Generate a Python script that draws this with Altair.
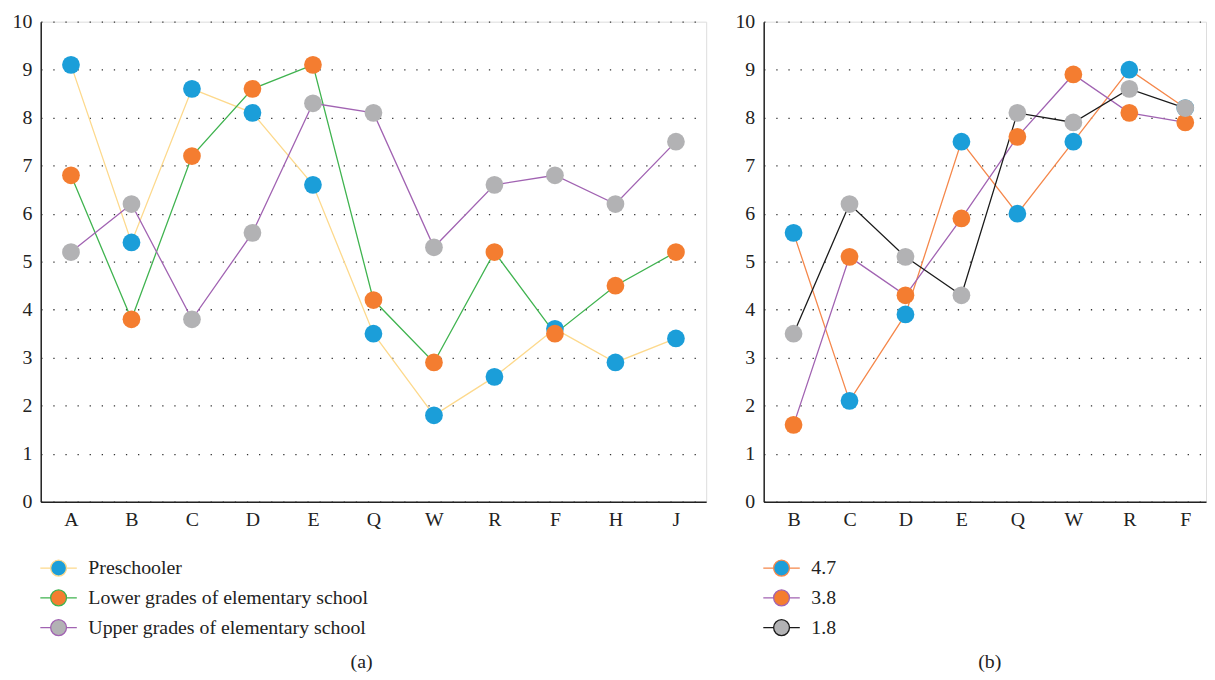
import altair as alt
import pandas as pd

# ---- data ----
cats_a = ["A", "B", "C", "D", "E", "Q", "W", "R", "F", "H", "J"]
names_a = ["Preschooler", "Lower grades of elementary school", "Upper grades of elementary school"]
preschooler = [9.1, 5.4, 8.6, 8.1, 6.6, 3.5, 1.8, 2.6, 3.6, 2.9, 3.4]
lower_grades = [6.8, 3.8, 7.2, 8.6, 9.1, 4.2, 2.9, 5.2, 3.5, 4.5, 5.2]
upper_grades = [5.2, 6.2, 3.8, 5.6, 8.3, 8.1, 5.3, 6.6, 6.8, 6.2, 7.5]

cats_b = ["B", "C", "D", "E", "Q", "W", "R", "F"]
names_b = ["4.7", "3.8", "1.8"]
s47 = [5.6, 2.1, 3.9, 7.5, 6.0, 7.5, 9.0, 8.2]
s38 = [1.6, 5.1, 4.3, 5.9, 7.6, 8.9, 8.1, 7.9]
s18 = [3.5, 6.2, 5.1, 4.3, 8.1, 7.9, 8.6, 8.2]

fills = ["#1b9ed9", "#f47d30", "#b2b2b4"]
lines_a = ["#fdd98c", "#3fb34f", "#a163b2"]
lines_b = ["#f5874a", "#a163b2", "#1a1a1a"]

FONT = "Liberation Serif"
FS = 20
SYMBOL = ("M-2.3,0H-1M1,0H2.3"
          "M1,0A1,1 0 1,1 -1,0A1,1 0 1,1 1,0Z")


def make_df(cats, names, series):
    rows = []
    for s_i, (name, vals) in enumerate(zip(names, series)):
        for c_i, (c, v) in enumerate(zip(cats, vals)):
            rows.append({"cat": c, "series": name, "value": v, "idx": c_i, "sidx": s_i})
    return pd.DataFrame(rows)


def panel(cats, names, series, line_colors, width, title, pad, align, tdx):
    df = make_df(cats, names, series)
    base = alt.Chart(df)
    legend = alt.Legend(
        title=None, orient="none", direction="vertical",
        legendX=8, legendY=541,
        symbolType=SYMBOL, symbolSize=256, symbolStrokeWidth=1.3,
        labelFont=FONT, labelFontSize=FS, labelColor="#222",
        labelOffset=20, rowPadding=8, padding=0, symbolOpacity=1,
        labelLimit=500,
    )
    x = alt.X("cat:N", sort=cats, title=None,
              scale=alt.Scale(type="point", padding=pad, align=align),
              axis=alt.Axis(labelAngle=0, ticks=False, grid=False,
                            domainColor="#222", domainWidth=1.5,
                            labelFont=FONT, labelFontSize=FS, labelColor="#222",
                            labelPadding=8))
    y = alt.Y("value:Q", title=None,
              scale=alt.Scale(domain=[0, 10], nice=False, zero=True),
              axis=alt.Axis(values=list(range(0, 11)), ticks=False,
                            domainColor="#222", domainWidth=1.5,
                            grid=True, gridColor="#333", gridDash=[1.3, 10.9],
                            gridWidth=1.3,
                            labelFont=FONT, labelFontSize=FS, labelColor="#222",
                            labelPadding=9))
    line = base.mark_line(strokeWidth=1.3).encode(
        x=x, y=y,
        stroke=alt.Stroke("series:N", scale=alt.Scale(domain=names, range=line_colors),
                          legend=legend),
        order=alt.Order("idx:Q"),
    )
    pts = base.mark_circle(size=320, opacity=1).encode(
        x=x, y=y,
        fill=alt.Fill("series:N", scale=alt.Scale(domain=names, range=fills),
                      legend=legend),
        order=alt.Order("sidx:Q"),
    )
    return alt.layer(line, pts).properties(
        width=width, height=484,
        title=alt.TitleParams(title, orient="bottom", anchor="middle",
                              font=FONT, fontSize=FS, fontWeight="normal",
                              color="#222", offset=14, dx=tdx),
    )


pa = panel(cats_a, names_a, [preschooler, lower_grades, upper_grades],
           lines_a, 671, "(a)", 0.5, 0.5, -12)
pb = panel(cats_b, names_b, [s47, s38, s18],
           lines_b, 446, "(b)", 0.452, 0.59, 5)

chart = alt.hconcat(pa, pb, spacing=27).resolve_scale(
    stroke="independent", fill="independent", x="independent"
).resolve_legend(stroke="independent", fill="independent").properties(
    padding={"left": 3, "top": 0, "right": 0, "bottom": 0}
).configure_view(stroke=None).configure(background="white")

chart.save("out.html", embed_options={"renderer": "svg", "actions": False})
